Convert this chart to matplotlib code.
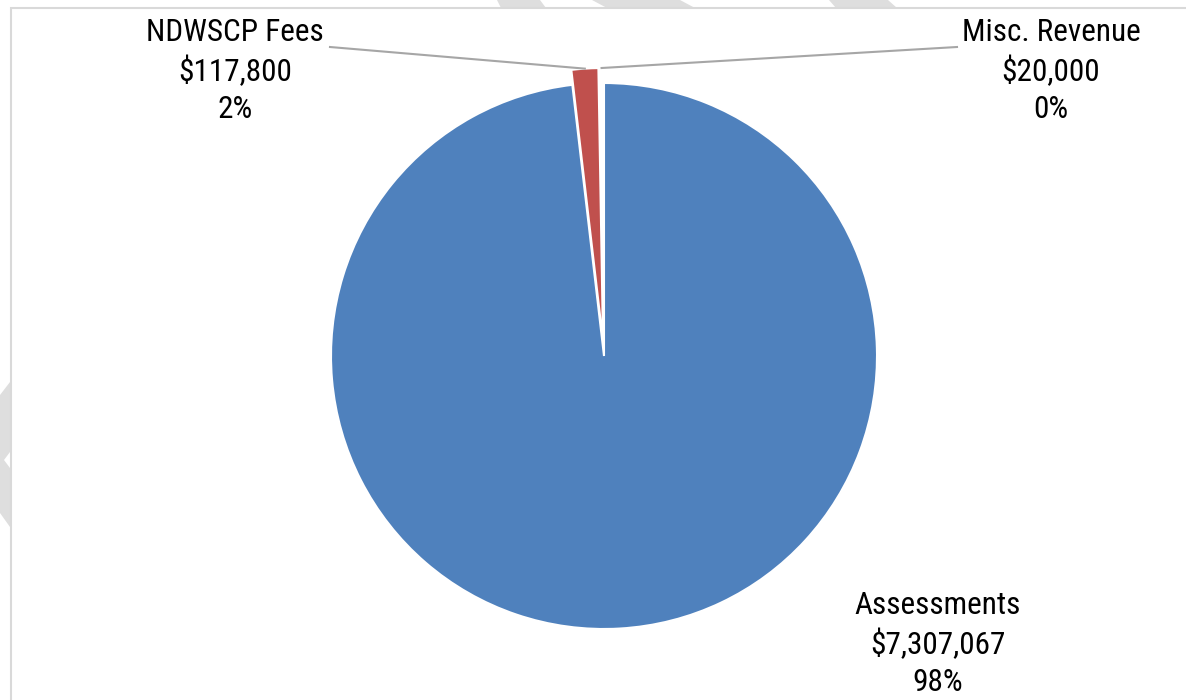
import matplotlib.pyplot as plt
import numpy as np
from matplotlib import font_manager
from matplotlib.patches import Rectangle, Polygon

# revenue sources
categories = ['Assessments', 'NDWSCP Fees', 'Misc. Revenue']
amounts = [7307067, 117800, 20000]
pct_labels = ['98%', '2%', '0%']

colors = ['#4F81BD', '#C0504D', '#FFFFFF']
explode = [0, 15, 15]

# narrow face for the labels if one is around
installed = {f.name for f in font_manager.fontManager.ttflist}
label_font = dict(family=['Liberation Sans', 'DejaVu Sans'], size=19.5)
for cand in ['Liberation Sans Narrow', 'Arial Narrow', 'Roboto Condensed']:
    if cand in installed:
        label_font = dict(family=[cand, 'DejaVu Sans'], size=22.5)
        break

W, H = 1186, 700
fig = plt.figure(figsize=(W / 100, H / 100), dpi=100)
ax = fig.add_axes([0, 0, 1, 1])

cx, cy, r = 604, 344, 273
wedges, _ = ax.pie(amounts, colors=colors, explode=explode, startangle=90,
                   counterclock=False, radius=r, center=(cx, cy),
                   wedgeprops=dict(edgecolor='white', linewidth=1.5))
for w in wedges:
    w.set_zorder(2)

# pie() resets the limits, so put the pixel frame back afterwards
ax.set_xlim(0, W)
ax.set_ylim(0, H)
ax.set_aspect('equal')
ax.axis('off')

# faint page watermark showing round the chart box
wm = '#DEDEDE'
for pts in [[(497, 700), (540, 700), (546, 692), (501, 692)],
            [(592, 700), (680, 700), (695, 692), (607, 692)],
            [(829, 700), (888, 700), (897, 692), (836, 692)],
            [(0, 305), (10, 318), (10, 173), (0, 187)]]:
    ax.add_patch(Polygon(pts, closed=True, facecolor=wm, edgecolor='none', zorder=0))
ax.add_patch(Polygon([(10, 248), (10, 232), (4, 240)], closed=True,
                     facecolor='white', edgecolor='none', zorder=0.5))

# chart box
ax.add_patch(Rectangle((11, -20), W + 40, H - 8 + 20, facecolor='white',
                       edgecolor='#D9D9D9', linewidth=1.5, zorder=1, clip_on=False))

fmt = lambda v: '${:,.0f}'.format(v)
label_pos = {1: (235, 629), 2: (1051, 629), 0: (938, 56)}
line_start = {1: (330, 653), 2: (957, 653)}

for i, name in enumerate(categories):
    x, y = label_pos[i]
    ax.text(x, y, '{}\n{}\n{}'.format(name, fmt(amounts[i]), pct_labels[i]),
            ha='center', va='center', linespacing=1.35, color='black',
            zorder=3, **label_font)
    if i in line_start:
        w = wedges[i]
        mid = np.deg2rad((w.theta1 + w.theta2) / 2)
        px = w.center[0] + w.r * np.cos(mid)
        py = w.center[1] + w.r * np.sin(mid)
        sx, sy = line_start[i]
        ax.plot([sx, px], [sy, py], color='#A6A6A6', linewidth=1.5, zorder=3)

fig.savefig('out.png', dpi=100, facecolor='white')
